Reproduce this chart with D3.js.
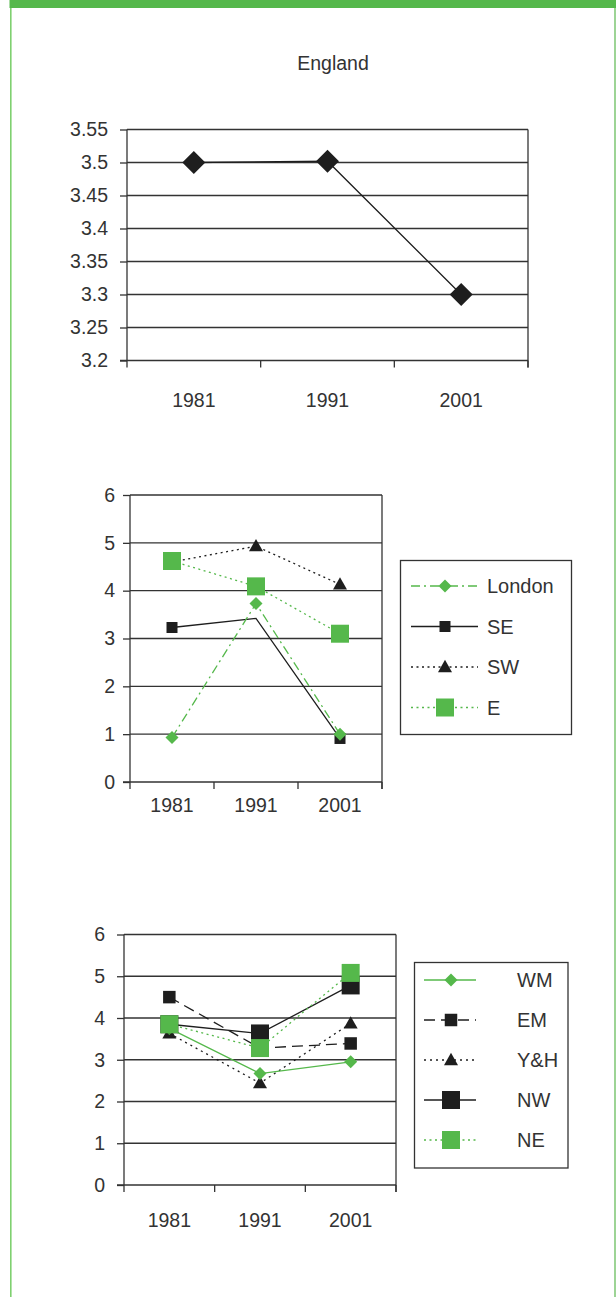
<!DOCTYPE html>
<html>
<head>
<meta charset="utf-8">
<script src="https://cdn.jsdelivr.net/npm/d3@7"></script>
<style>
  html, body { margin: 0; padding: 0; background: #fff; }
  svg { display: block; }
  text { font-family: "Liberation Sans", Arial, Helvetica, sans-serif; fill: #333; }
</style>
</head>
<body>
<svg id="chart" width="616" height="1297"></svg>
<script>
// ---------- DATA ----------
const years = ["1981", "1991", "2001"];

const englandTitle = "England";
const englandValues = [3.5, 3.502, 3.3];
const englandTicks = [3.2, 3.25, 3.3, 3.35, 3.4, 3.45, 3.5, 3.55];
const englandTickLabels = ["3.2", "3.25", "3.3", "3.35", "3.4", "3.45", "3.5", "3.55"];

const regionTicks = [0, 1, 2, 3, 4, 5, 6];

// chart 2
const londonValues = [0.93, 3.73, 1.0];
const seValues = [3.23, 3.42, 0.91];
const swValues = [4.6, 4.93, 4.13];
const eValues = [4.62, 4.09, 3.1];

// chart 3
const wmValues = [3.75, 2.67, 2.95];
const emValues = [4.5, 3.28, 3.39];
const yhValues = [3.63, 2.44, 3.87];
const nwValues = [3.85, 3.63, 4.78];
const neValues = [3.85, 3.28, 5.08];

// ---------- STYLE ----------
const GREEN = "#55b84b";
const DARK = "#1e1e1e";
const GRID = "#333";

const svg = d3.select("#chart");

// page frame
svg.append("rect").attr("x", 9.5).attr("y", 0).attr("width", 606.5).attr("height", 8).attr("fill", GREEN);
svg.append("line").attr("x1", 10.8).attr("x2", 10.8).attr("y1", 8).attr("y2", 1297)
  .attr("stroke", "#7fd070").attr("stroke-width", 1.6);
svg.append("line").attr("x1", 615).attr("x2", 615).attr("y1", 8).attr("y2", 1297)
  .attr("stroke", "#5cb84f").attr("stroke-width", 1.2);

// marker shapes
function markerPath(shape, s) {
  const h = s / 2;
  if (shape === "diamond") return `M0,${-h}L${h},0L0,${h}L${-h},0Z`;
  if (shape === "square") return `M${-h},${-h}H${h}V${h}H${-h}Z`;
  if (shape === "triangle") {
    const th = s * 0.88;
    return `M0,${-th * 0.58}L${h},${th * 0.42}L${-h},${th * 0.42}Z`;
  }
  return "";
}

function drawChart(cfg) {
  const g = svg.append("g");
  const x = d3.scaleBand().domain(years).range([cfg.left, cfg.right]).padding(0);
  const y = d3.scaleLinear().domain(cfg.domain).range([cfg.bottom, cfg.top]);

  // gridlines
  g.selectAll("line.grid").data(cfg.ticks.filter(t => t !== cfg.domain[0])).join("line")
    .attr("x1", cfg.left).attr("x2", cfg.right)
    .attr("y1", d => y(d)).attr("y2", d => y(d))
    .attr("stroke", GRID).attr("stroke-width", 1.3);

  // left axis
  const yAxis = d3.axisLeft(y).tickValues(cfg.ticks).tickSize(7).tickPadding(cfg.labelPad)
    .tickFormat((d, i) => cfg.tickLabels[i]);
  const ya = g.append("g").attr("transform", `translate(${cfg.left},0)`).call(yAxis);
  ya.select(".domain").attr("stroke", GRID).attr("stroke-width", 1.3)
    .attr("d", `M0,${cfg.bottom}V${cfg.top}`);
  ya.selectAll(".tick line").attr("stroke", GRID).attr("stroke-width", 1.3);
  ya.selectAll(".tick text").attr("font-size", cfg.fontSize).attr("fill", "#333")
    .attr("font-family", '"Liberation Sans", Arial, sans-serif');

  // right border
  g.append("line").attr("x1", cfg.right).attr("x2", cfg.right)
    .attr("y1", cfg.top).attr("y2", cfg.bottom + 7)
    .attr("stroke", GRID).attr("stroke-width", 1.3);

  // bottom axis
  g.append("line").attr("x1", cfg.left - 7).attr("x2", cfg.right)
    .attr("y1", cfg.bottom).attr("y2", cfg.bottom)
    .attr("stroke", GRID).attr("stroke-width", 1.3);
  const bounds = years.map(d => x(d)).concat([x(years[years.length - 1]) + x.bandwidth()]);
  g.selectAll("line.xt").data(bounds).join("line")
    .attr("x1", d => d).attr("x2", d => d)
    .attr("y1", cfg.bottom).attr("y2", cfg.bottom + 7)
    .attr("stroke", GRID).attr("stroke-width", 1.3);
  g.selectAll("text.xl").data(years).join("text")
    .attr("x", d => x(d) + x.bandwidth() / 2)
    .attr("y", cfg.xLabelY)
    .attr("text-anchor", "middle")
    .attr("font-size", cfg.fontSize)
    .text(d => d);

  // series
  cfg.series.forEach(s => {
    const line = d3.line().x((d, i) => x(years[i]) + x.bandwidth() / 2).y(d => y(d));
    g.append("path").attr("d", line(s.values))
      .attr("fill", "none").attr("stroke", s.color).attr("stroke-width", s.width || 1.3)
      .attr("stroke-dasharray", s.dash || null);
    g.selectAll(null).data(s.values.map((v, i) => ({ v, i })).filter(d => !(s.hide || []).includes(d.i)))
      .join("path")
      .attr("transform", d => `translate(${x(years[d.i]) + x.bandwidth() / 2},${y(d.v)})`)
      .attr("d", markerPath(s.shape, s.size))
      .attr("fill", s.color);
  });

  // legend
  if (cfg.legend) {
    const L = cfg.legend;
    g.append("rect").attr("x", L.x).attr("y", L.y).attr("width", L.w).attr("height", L.h)
      .attr("fill", "#fff").attr("stroke", GRID).attr("stroke-width", 1.3);
    L.items.forEach((name, k) => {
      const s = cfg.series.find(d => d.name === name);
      const cy = L.firstY + k * L.step;
      g.append("line").attr("x1", L.lineX1).attr("x2", L.lineX2).attr("y1", cy).attr("y2", cy)
        .attr("stroke", s.color).attr("stroke-width", s.width || 1.3)
        .attr("stroke-dasharray", s.dash || null);
      g.append("path").attr("transform", `translate(${L.markX},${cy})`)
        .attr("d", markerPath(s.shape, s.legendSize || s.size)).attr("fill", s.color);
      g.append("text").attr("x", L.textX).attr("y", cy + 7).attr("font-size", 20).text(name);
    });
  }
  return { x, y };
}

// Title
svg.append("text").attr("x", 333).attr("y", 70).attr("text-anchor", "middle")
  .attr("font-size", 19.5).text(englandTitle);

// Chart 1: England
drawChart({
  left: 127, right: 528, top: 129.5, bottom: 360.5,
  domain: [3.2, 3.55], ticks: englandTicks, tickLabels: englandTickLabels,
  labelPad: 12, fontSize: 19.5, xLabelY: 407,
  series: [
    { name: "England", values: englandValues, color: DARK, shape: "diamond", size: 23, width: 1.3 }
  ]
});

// Chart 2: London, SE, SW, E
drawChart({
  left: 130, right: 382, top: 495, bottom: 782,
  domain: [0, 6], ticks: regionTicks, tickLabels: regionTicks.map(String),
  labelPad: 8, fontSize: 19.5, xLabelY: 812,
  series: [
    { name: "SE", values: seValues, color: DARK, shape: "square", size: 11, hide: [1] },
    { name: "SW", values: swValues, color: DARK, shape: "triangle", size: 14, dash: "2,3.5" },
    { name: "London", values: londonValues, color: GREEN, shape: "diamond", size: 13, dash: "9,4,2,4" },
    { name: "E", values: eValues, color: GREEN, shape: "square", size: 18, dash: "2,3.5" }
  ],
  legend: {
    x: 400.5, y: 560.5, w: 171, h: 174,
    items: ["London", "SE", "SW", "E"],
    firstY: 586, step: 40.5, lineX1: 411, lineX2: 478, markX: 445, textX: 487
  }
});

// Chart 3: WM, EM, Y&H, NW, NE
drawChart({
  left: 124, right: 396, top: 934.5, bottom: 1185,
  domain: [0, 6], ticks: regionTicks, tickLabels: regionTicks.map(String),
  labelPad: 12, fontSize: 19.5, xLabelY: 1227,
  series: [
    { name: "EM", values: emValues, color: DARK, shape: "square", size: 12.5, dash: "11,6" },
    { name: "Y&H", values: yhValues, color: DARK, shape: "triangle", size: 14, dash: "2,4" },
    { name: "WM", values: wmValues, color: GREEN, shape: "diamond", size: 13 },
    { name: "NW", values: nwValues, color: DARK, shape: "square", size: 18 },
    { name: "NE", values: neValues, color: GREEN, shape: "square", size: 18, dash: "2,3.5" }
  ],
  legend: {
    x: 414.5, y: 962.5, w: 153.5, h: 205.5,
    items: ["WM", "EM", "Y&H", "NW", "NE"],
    firstY: 980, step: 40, lineX1: 424, lineX2: 476, markX: 451, textX: 517
  }
});
</script>
</body>
</html>
